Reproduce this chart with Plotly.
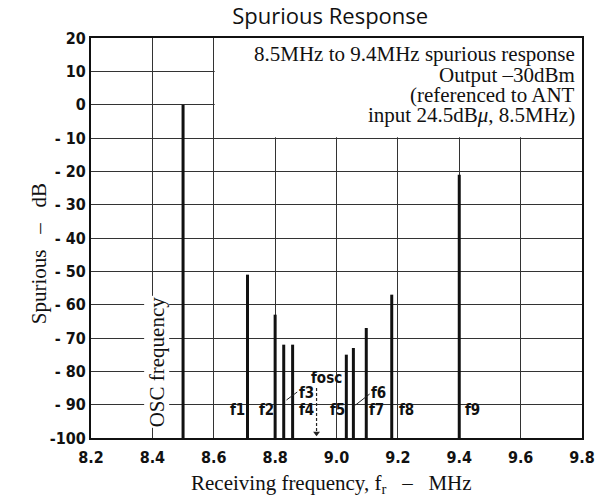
import plotly.graph_objects as go

# Spurious response levels (dB) at each receiving frequency (MHz)
osc_freq = 8.50
osc_level = 0
spur_freqs = [8.71, 8.80, 8.828, 8.857, 9.032, 9.055, 9.097, 9.18, 9.40]
spur_levels = [-51, -63, -72, -72, -75, -73, -67, -57, -21]

fosc_freq = 8.935

# Spur labels: text, x (MHz), y (dB)
label_text = ["f1", "f2", "f3", "f4", "fosc", "f5", "f6", "f7", "f8", "f9"]
label_x = [8.678, 8.772, 8.902, 8.902, 8.967, 9.003, 9.137, 9.13, 9.228, 9.442]
label_y = [-91.6, -91.6, -86.5, -91.6, -82.0, -91.6, -86.5, -91.6, -91.6, -91.6]

x_ticks = [8.2, 8.4, 8.6, 8.8, 9.0, 9.2, 9.4, 9.6, 9.8]
y_ticks = [20, 10, 0, -10, -20, -30, -40, -50, -60, -70, -80, -90, -100]

note_lines = [
    "8.5MHz to 9.4MHz spurious response",
    "Output \u201330dBm",
    "(referenced to ANT",
    "input 24.5dB<i>\u03bc</i>, 8.5MHz)",
]
note_y = [15.2, 8.9, 2.8, -3.2]

Y_MIN = -100
serif = "Liberation Serif"
din = "DejaVu Sans Condensed"

fig = go.Figure()

# vertical response lines rising from the floor of the chart
all_f = [osc_freq] + spur_freqs
all_v = [osc_level] + spur_levels
xs, ys = [], []
for f, v in zip(all_f, all_v):
    xs += [f, f, None]
    ys += [Y_MIN, v, None]
fig.add_trace(go.Scatter(x=xs, y=ys, mode="lines",
                         line=dict(color="#111", width=3),
                         hoverinfo="skip", showlegend=False))

# dashed marker for the local oscillator frequency, ending in an arrowhead
fig.add_trace(go.Scatter(x=[fosc_freq, fosc_freq], y=[-85, -98], mode="lines",
                         line=dict(color="#222", width=1.2, dash="3px,2px"),
                         hoverinfo="skip", showlegend=False))
fig.add_trace(go.Scatter(x=[fosc_freq], y=[-98.6], mode="markers",
                         marker=dict(symbol="triangle-down", size=6, color="#222"),
                         hoverinfo="skip", showlegend=False))

# leader lines from f3 and f6 labels to their spur lines
fig.add_trace(go.Scatter(x=[8.837, 8.872, None, 9.062, 9.108],
                         y=[-88.6, -86.2, None, -90.1, -86.8], mode="lines",
                         line=dict(color="#222", width=1),
                         hoverinfo="skip", showlegend=False))

for t, x, y in zip(label_text, label_x, label_y):
    fig.add_annotation(x=x, y=y, xref="x", yref="y", text=t, showarrow=False,
                       font=dict(family=din, size=15, color="#111", weight="bold"))

# note block in the upper-right corner
fig.add_shape(type="rect", x0=8.603, x1=9.8, y0=-9.8, y1=20, xref="x", yref="y",
              fillcolor="white", line=dict(width=0), layer="between")
for line, y in zip(note_lines, note_y):
    fig.add_annotation(x=9.782, y=y, xref="x", yref="y", text=line, showarrow=False,
                       xanchor="right", yanchor="middle", borderpad=0,
                       font=dict(family=serif, size=21, color="#111"))

fig.add_annotation(x=8.415, y=-77, xref="x", yref="y", text="OSC frequency",
                   textangle=-90, showarrow=False, bgcolor="white", borderpad=0,
                   font=dict(family=serif, size=21, color="#111"))

# axis titles
fig.add_annotation(x=-0.134, y=0.46, xref="paper", yref="paper",
                   text="Spurious \u00a0\u00a0\u2013\u00a0\u00a0 dB", textangle=-90,
                   showarrow=False, font=dict(family=serif, size=21, color="#111"))
fig.add_annotation(x=0.49, y=-0.115, xref="paper", yref="paper",
                   text="Receiving frequency, f<sub>r</sub> \u00a0\u00a0\u2013\u00a0\u00a0 MHz",
                   showarrow=False, yanchor="middle",
                   font=dict(family=serif, size=21, color="#111"))


def y_tick_text(v):
    if v < 0 and v > -100:
        return f"- {abs(v)}"
    return str(v)


fig.update_layout(
    width=595, height=497,
    margin=dict(l=91, r=13, t=38, b=59, autoexpand=False),
    paper_bgcolor="white", plot_bgcolor="white",
    title=dict(text="Spurious Response", x=0.555, xanchor="center", y=0.982,
               yanchor="top",
               font=dict(family="Open Sans", size=22, color="#111")),
    xaxis=dict(range=[8.2, 9.8], tickvals=x_ticks,
               ticktext=[f"{v:.1f}" for v in x_ticks],
               showgrid=True, gridcolor="#333", gridwidth=1,
               showline=True, linecolor="#111", linewidth=2, mirror=True,
               ticks="", zeroline=False, automargin=False, ticklabelstandoff=4,
               tickfont=dict(family=din, size=16, color="#111", weight="bold")),
    yaxis=dict(range=[-100, 20], tickvals=y_ticks,
               ticktext=[y_tick_text(v) for v in y_ticks],
               showgrid=True, gridcolor="#333", gridwidth=1,
               showline=True, linecolor="#111", linewidth=2, mirror=True,
               ticks="", zeroline=False, automargin=False,
               tickfont=dict(family=din, size=16, color="#111", weight="bold")),
)

fig.write_html("out.html")
